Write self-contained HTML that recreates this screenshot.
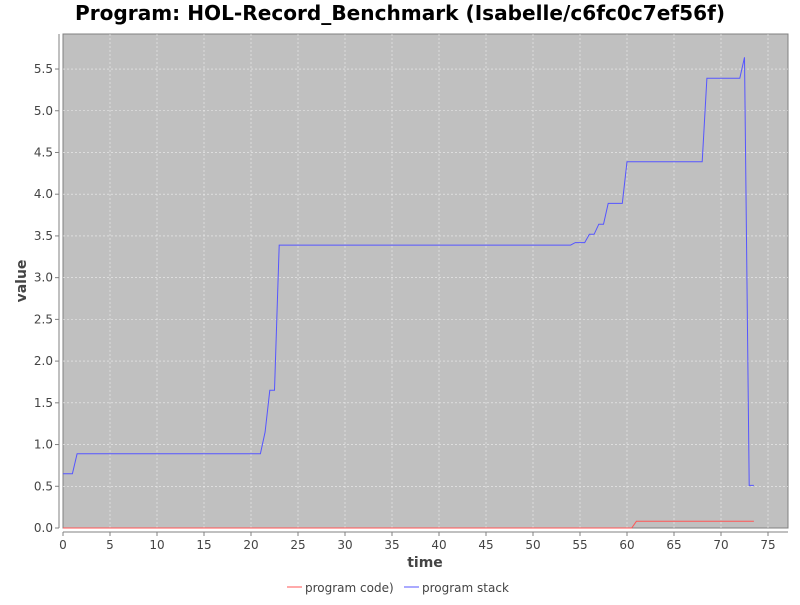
<!DOCTYPE html>
<html><head><meta charset="utf-8"><style>
body{margin:0;background:#fff;font-family:"Liberation Sans","DejaVu Sans",sans-serif}
svg text{font-family:"DejaVu Sans","Liberation Sans",sans-serif}
</style></head><body>
<svg id="s" width="800" height="600" xmlns="http://www.w3.org/2000/svg">
<rect width="800" height="600" fill="#fff"/>
<text x="400" y="20" text-anchor="middle" font-size="20" font-weight="bold" fill="#000" textLength="650" lengthAdjust="spacingAndGlyphs">Program: HOL-Record_Benchmark (Isabelle/c6fc0c7ef56f)</text>
<rect x="63" y="34" width="725" height="494" fill="#c0c0c0" stroke="#808080"/>
<g id="g"></g>
<line x1="63" y1="532" x2="788" y2="532" stroke="#808080"/>
<line x1="59" y1="34" x2="59" y2="528" stroke="#808080"/>
<text x="425" y="567" text-anchor="middle" font-size="14" font-weight="bold" fill="#444">time</text>
<text transform="translate(26,281) rotate(-90)" text-anchor="middle" font-size="14" font-weight="bold" fill="#444">value</text>
<line x1="287" y1="587" x2="302" y2="587" stroke="#ff5555"/>
<text x="305" y="592" font-size="12" fill="#444">program code)</text>
<line x1="404" y1="587" x2="419" y2="587" stroke="#5555ff"/>
<text x="422" y="592" font-size="12" fill="#444">program stack</text>
</svg>
<script>
var X=function(v){return 63+v*9.4},Y=function(v){return 528-v*83.45};
var g=document.getElementById('g'),h='';
for(var t=0;t<=75;t+=5){var x=X(t);if(t>0)h+='<line x1="'+x+'" y1="34" x2="'+x+'" y2="528" stroke="#eee" stroke-dasharray="2,2" stroke-width="0.6"/>';
h+='<line x1="'+x+'" y1="532" x2="'+x+'" y2="536" stroke="#808080"/><text x="'+x+'" y="549" text-anchor="middle" font-size="12" fill="#444">'+t+'</text>';}
for(var i=0;i<=11;i++){var v=i*0.5,y=Y(v);if(i>0)h+='<line x1="63" y1="'+y+'" x2="788" y2="'+y+'" stroke="#eee" stroke-dasharray="2,2" stroke-width="0.6"/>';
h+='<line x1="55" y1="'+y+'" x2="59" y2="'+y+'" stroke="#808080"/><text x="53" y="'+(y+4)+'" text-anchor="end" font-size="12" fill="#444">'+v.toFixed(1)+'</text>';}
var b=[[0,0.65],[1,0.65],[1.5,0.89],[21,0.89],[21.5,1.15],[22,1.65],[22.5,1.65],[23,3.39],[54,3.39],[54.5,3.42],[55.5,3.42],[56,3.52],[56.5,3.52],[57,3.64],[57.5,3.64],[58,3.89],[59.5,3.89],[60,4.39],[68,4.39],[68.5,5.39],[72,5.39],[72.5,5.64],[73,0.51],[73.5,0.51]];
var r=[[0,0],[60.5,0],[61,0.08],[73.5,0.08]];
function p(a){return a.map(function(q){return X(q[0]).toFixed(1)+','+Y(q[1]).toFixed(1)}).join(' ')}
h+='<polyline points="'+p(r)+'" fill="none" stroke="#ff5555"/>';
h+='<polyline points="'+p(b)+'" fill="none" stroke="#5555ff"/>';
g.innerHTML=h;
</script>
</body></html>
